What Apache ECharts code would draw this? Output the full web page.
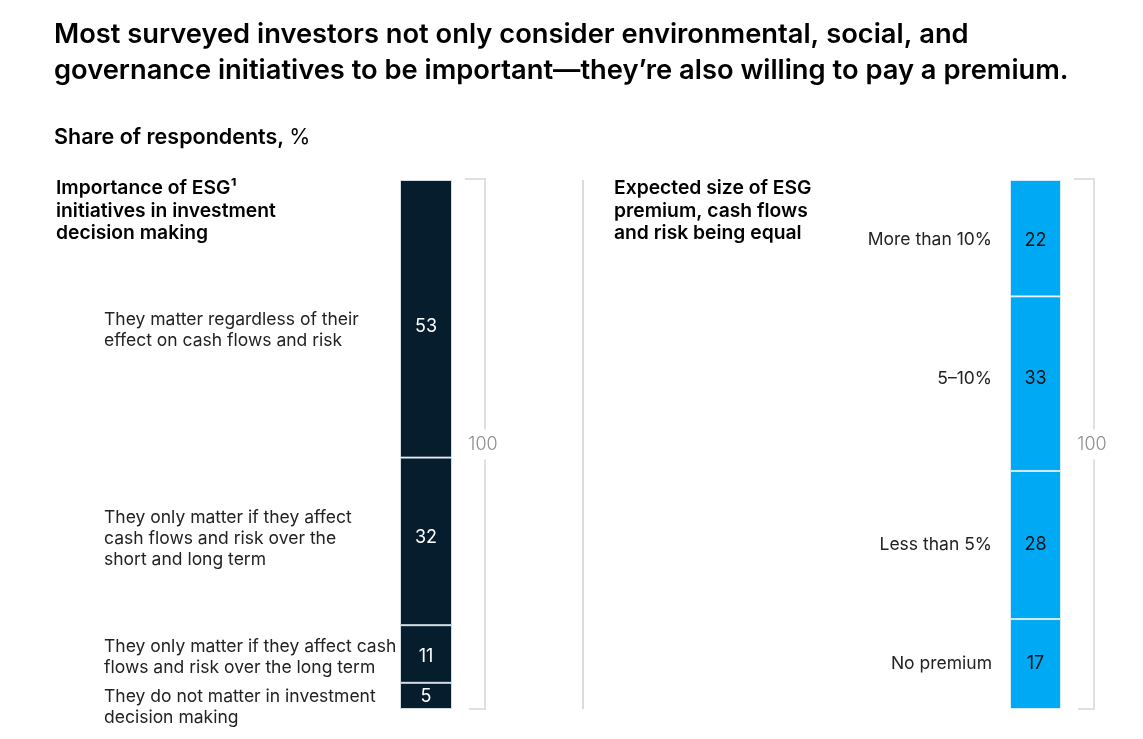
<!DOCTYPE html>
<html>
<head>
<meta charset="utf-8">
<script src="https://cdn.jsdelivr.net/npm/echarts@6/dist/echarts.min.js"></script>
<style>
  html, body { margin: 0; padding: 0; background: #fff; }
  #chart { width: 1143px; height: 739px; }
</style>
</head>
<body>
<div id="chart"></div>
<script>
// data, top segment first
var leftCategories = [
    'They matter regardless of their\neffect on cash flows and risk',
    'They only matter if they affect\ncash flows and risk over the\nshort and long term',
    'They only matter if they affect cash\nflows and risk over the long term',
    'They do not matter in investment\ndecision making'
];
var leftValues = [53, 32, 11, 5];
var rightCategories = ['More than 10%', '5\u201310%', 'Less than 5%', 'No premium'];
var rightValues = [22, 33, 28, 17];
var totalLabels = ['100', '100'];

var FONT = 'Inter, "Noto Sans", sans-serif';
var navy = '#061d2e';
var blue = '#00a9f4';

// layout
var plotTop = 180, plotHeight = 529;
var leftBar = { left: 400, width: 52 };
var rightBar = { left: 1010, width: 51 };
var leftValOffsets = [8, -4, 3, 1];
var leftCatOffsets = [11, -3, 3, 11];
var rightValOffsets = [2, -5, 0, 0];

function sum(arr) {
    var s = 0;
    for (var i = 0; i < arr.length; i++) s += arr[i];
    return s;
}

var myChart = echarts.init(document.getElementById('chart'));

var series = [];
leftValues.forEach(function (v, i) {
    series.push({
        type: 'bar',
        xAxisIndex: 0,
        yAxisIndex: 0,
        stack: 'leftVal',
        barWidth: '100%',
        barGap: '-100%',
        data: [v],
        silent: true,
        itemStyle: { color: navy, borderColor: 'rgba(220,228,235,0.9)', borderWidth: 1 },
        label: {
            show: true, position: 'inside', color: '#fff',
            fontFamily: FONT, fontSize: 18, offset: [0, leftValOffsets[i]]
        }
    });
    series.push({
        type: 'bar',
        xAxisIndex: 0,
        yAxisIndex: 0,
        stack: 'leftCat',
        barWidth: '100%',
        data: [v],
        silent: true,
        itemStyle: { color: 'transparent' },
        label: {
            show: true,
            position: [-296, '50%'],
            align: 'left',
            verticalAlign: 'middle',
            offset: [0, leftCatOffsets[i]],
            formatter: leftCategories[i],
            color: '#222',
            fontFamily: FONT,
            fontSize: 17.5,
            lineHeight: 21
        }
    });
});

rightValues.forEach(function (v, i) {
    series.push({
        type: 'bar',
        xAxisIndex: 1,
        yAxisIndex: 1,
        stack: 'rightVal',
        barWidth: '100%',
        barGap: '-100%',
        data: [v],
        silent: true,
        itemStyle: { color: blue, borderColor: 'rgba(220,240,252,0.9)', borderWidth: 1 },
        label: {
            show: true, position: 'inside', color: '#111',
            fontFamily: FONT, fontSize: 18, offset: [0, rightValOffsets[i]]
        }
    });
    series.push({
        type: 'bar',
        xAxisIndex: 1,
        yAxisIndex: 1,
        stack: 'rightCat',
        barWidth: '100%',
        data: [v],
        silent: true,
        itemStyle: { color: 'transparent' },
        label: {
            show: true,
            position: 'left',
            distance: 18,
            offset: [0, rightValOffsets[i]],
            formatter: rightCategories[i],
            color: '#222',
            fontFamily: FONT,
            fontSize: 17.5
        }
    });
});

var option = {
    backgroundColor: '#fff',
    animation: false,
    title: [
        {
            text: 'Most surveyed investors not only consider environmental, social, and\ngovernance initiatives to be important\u2014they\u2019re also willing to pay a premium.',
            left: 49, top: 12,
            textStyle: { fontFamily: FONT, fontWeight: 600, fontSize: 27.3, lineHeight: 36, color: '#000' }
        },
        {
            text: '{b|Share of respondents,} {r|%}',
            left: 49, top: 122,
            textStyle: {
                rich: {
                    b: { fontFamily: FONT, fontWeight: 600, fontSize: 21.5, color: '#000' },
                    r: { fontFamily: FONT, fontWeight: 400, fontSize: 21.5, color: '#000' }
                }
            }
        },
        {
            text: 'Importance of ESG\u00b9\ninitiatives in investment\ndecision making',
            left: 51, top: 172,
            textStyle: { fontFamily: FONT, fontWeight: 600, fontSize: 19.3, lineHeight: 22.5, color: '#000' }
        },
        {
            text: 'Expected size of ESG\npremium, cash flows\nand risk being equal',
            left: 609, top: 172,
            textStyle: { fontFamily: FONT, fontWeight: 600, fontSize: 19.3, lineHeight: 22.5, color: '#000' }
        }
    ],
    grid: [
        { left: leftBar.left, width: leftBar.width, top: plotTop, height: plotHeight },
        { left: rightBar.left, width: rightBar.width, top: plotTop, height: plotHeight }
    ],
    xAxis: [
        { type: 'category', gridIndex: 0, data: [''], show: false },
        { type: 'category', gridIndex: 1, data: [''], show: false }
    ],
    yAxis: [
        { type: 'value', gridIndex: 0, min: 0, max: sum(leftValues), inverse: true, show: false },
        { type: 'value', gridIndex: 1, min: 0, max: sum(rightValues), inverse: true, show: false }
    ],
    series: series
};

myChart.setOption(option);

// brackets with total and the panel divider
function bracket(axisIdx, bar, total, label) {
    var yTop = myChart.convertToPixel({ yAxisIndex: axisIdx }, 0);
    var yBot = myChart.convertToPixel({ yAxisIndex: axisIdx }, total);
    var xr = bar.left + bar.width;
    var xv = xr + 33;
    var ls = { stroke: '#d6d6d6', lineWidth: 1.5 };
    return [
        { type: 'polyline', shape: { points: [[xr + 13, yTop - 1], [xv, yTop - 1], [xv, yBot], [xr + 17, yBot]] }, style: ls, silent: true },
        {
            type: 'text', x: xv - 2, y: (yTop + yBot) / 2, silent: true, z: 10,
            style: {
                text: label, fill: '#8f8f8f', font: '300 18px ' + FONT,
                align: 'center', verticalAlign: 'middle',
                backgroundColor: '#fff', padding: [6, 1]
            }
        }
    ];
}

var g = [];
g = g.concat(bracket(0, leftBar, sum(leftValues), totalLabels[0]));
g = g.concat(bracket(1, rightBar, sum(rightValues), totalLabels[1]));
g.push({
    type: 'line', silent: true,
    shape: { x1: 583, y1: plotTop, x2: 583, y2: plotTop + plotHeight },
    style: { stroke: '#cfcfcf', lineWidth: 1.5 }
});
myChart.setOption({ graphic: g });
</script>
</body>
</html>
